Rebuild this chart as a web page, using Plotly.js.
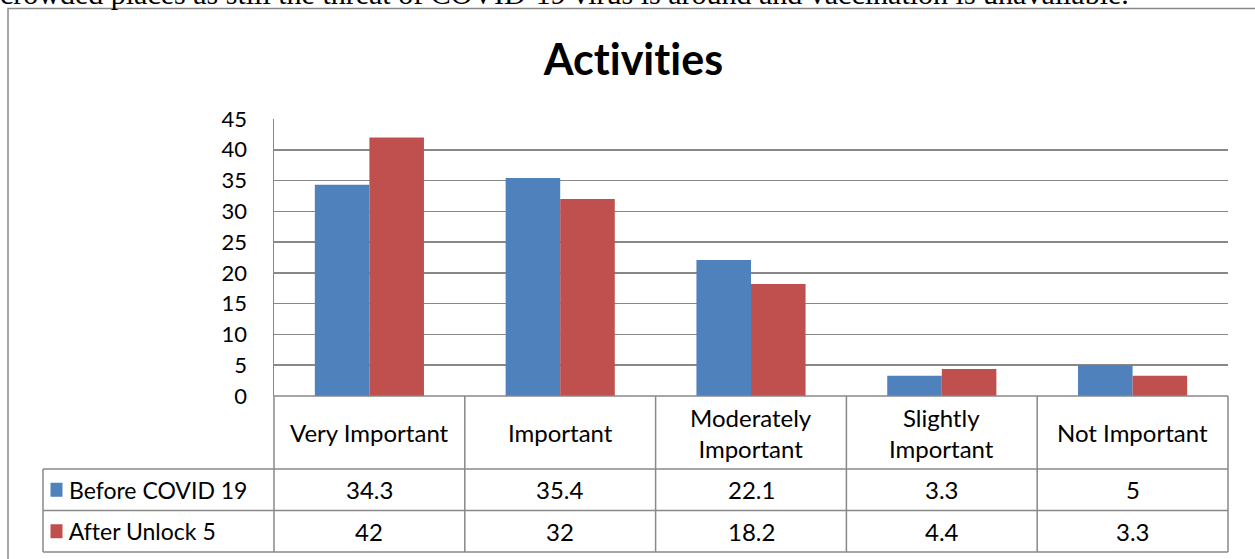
<!DOCTYPE html>
<html>
<head>
<meta charset="utf-8">
<script src="https://cdn.plot.ly/plotly-3.0.1.min.js"></script>
<style>
  html, body { margin: 0; padding: 0; background: #ffffff; }
  #chart { width: 1255px; height: 559px; }
  #chart svg text { font-variant-ligatures: none; font-feature-settings: "liga" 0, "clig" 0; }
</style>
</head>
<body>
<div id="chart"></div>
<script>
// Importance ratings of activities, before COVID 19 and after Unlock 5 (%)
const categories = ["Very Important", "Important", "Moderately Important", "Slightly Important", "Not Important"];
const categoryLabels = ["Very Important", "Important", "Moderately<br>Important", "Slightly<br>Important", "Not Important"];
const seriesNames = ["Before COVID 19", "After Unlock 5"];
const beforeCovid = [34.3, 35.4, 22.1, 3.3, 5];
const afterUnlock = [42, 32, 18.2, 4.4, 3.3];
const yTicks = [0, 5, 10, 15, 20, 25, 30, 35, 40, 45];
const captionText = "crowded places as still the threat of COVID-19 virus is around and vaccination is unavailable.";

const colors = ["#4F81BD", "#C0504D"];
const seriesValues = [beforeCovid, afterUnlock];

// Page geometry (pixels) of the plotting area
const W = 1255, H = 559;
const L = 274, R = 1228, T = 119, B = 396;
const px = x => (x - L) / (R - L);
const py = y => (B - y) / (B - T);

const gridColor = "#888888";
const fontFamily = "Lato, 'Open Sans', sans-serif";
const textFont = { family: fontFamily, size: 24, color: "#000000" };

// Data table rows below the plot
const headerBottom = 469, row1Bottom = 510.5, row2Bottom = 552, legendLeft = 43;
const rowCenters = [(headerBottom + row1Bottom) / 2, (row1Bottom + row2Bottom) / 2];

const traces = seriesNames.map((name, i) => ({
  type: "bar",
  name: name,
  x: categories,
  y: seriesValues[i],
  marker: { color: colors[i], line: { width: 0 } },
  hoverinfo: "skip"
}));

const shapes = [];
const line = (x0, y0, x1, y1) => shapes.push({
  type: "line", xref: "paper", yref: "paper",
  x0: px(x0), y0: py(y0), x1: px(x1), y1: py(y1),
  line: { color: gridColor, width: 1.5 }, layer: "above"
});

// column separators (header row + value rows)
for (let k = 0; k <= categories.length; k++) {
  const x = L + k * (R - L) / categories.length;
  line(x, B, x, row2Bottom);
}
// row separators
line(L, B, R, B);
line(legendLeft, headerBottom, R, headerBottom);
line(legendLeft, row1Bottom, R, row1Bottom);
line(legendLeft, row2Bottom, R, row2Bottom);
line(legendLeft, headerBottom, legendLeft, row2Bottom);

// legend keys inside the table
seriesNames.forEach((n, i) => {
  shapes.push({
    type: "rect", xref: "paper", yref: "paper",
    x0: px(50.5), x1: px(62.5), y0: py(rowCenters[i] - 7), y1: py(rowCenters[i] + 7),
    fillcolor: colors[i], line: { width: 0 }, layer: "above"
  });
});

// outer chart frame
shapes.push({
  type: "rect", xref: "paper", yref: "paper",
  x0: px(8), x1: px(W + 20), y0: py(8.5), y1: py(H + 20),
  fillcolor: "rgba(0,0,0,0)", line: { color: "#8a8a8a", width: 1.5 }, layer: "below"
});

const annotations = [];
// category header cells
categories.forEach((c, j) => {
  annotations.push({
    xref: "x", yref: "paper", x: c, y: py((B + headerBottom) / 2),
    text: categoryLabels[j], showarrow: false, xanchor: "center", yanchor: "middle",
    font: textFont
  });
});
// values and series names
seriesNames.forEach((n, i) => {
  annotations.push({
    xref: "paper", yref: "paper", x: px(67), y: py(rowCenters[i]),
    text: n, showarrow: false, xanchor: "left", yanchor: "middle",
    font: { family: fontFamily, size: 23, color: "#000000" }
  });
  seriesValues[i].forEach((v, j) => {
    annotations.push({
      xref: "x", yref: "paper", x: categories[j], y: py(rowCenters[i]),
      text: String(v), showarrow: false, xanchor: "center", yanchor: "middle", font: textFont
    });
  });
});
// running text above the chart frame
annotations.push({
  xref: "paper", yref: "paper", x: px(-2), y: py(12),
  text: captionText, showarrow: false, xanchor: "left", yanchor: "bottom",
  font: { family: "'Liberation Serif', 'Times New Roman', serif", size: 30, color: "#000000" }
});

const layout = {
  width: W, height: H,
  margin: { l: L, r: W - R, t: T, b: H - B, pad: 0 },
  paper_bgcolor: "#ffffff", plot_bgcolor: "#ffffff",
  title: {
    text: "<b>Activities</b>",
    xref: "paper", x: px(633.4), xanchor: "center",
    yref: "container", y: 1 - 60 / H, yanchor: "middle",
    font: { family: fontFamily, size: 43, color: "#000000" }
  },
  showlegend: false,
  barmode: "group",
  bargap: 0.428,
  bargroupgap: 0,
  xaxis: {
    type: "category",
    showticklabels: false, ticks: "",
    showgrid: false, zeroline: false, showline: false,
    range: [-0.5, categories.length - 0.5],
    fixedrange: true
  },
  yaxis: {
    range: [0, 45],
    tickvals: yTicks,
    ticktext: yTicks.map(String),
    ticks: "",
    showgrid: true, gridcolor: gridColor, gridwidth: 1.5,
    zeroline: false,
    showline: true, linecolor: gridColor, linewidth: 1.5,
    tickfont: { family: fontFamily, size: 22, color: "#000000" },
    ticklabelstandoff: 21,
    fixedrange: true
  },
  shapes: shapes,
  annotations: annotations
};

Plotly.newPlot("chart", traces, layout, { displayModeBar: false, staticPlot: true });
</script>
</body>
</html>
